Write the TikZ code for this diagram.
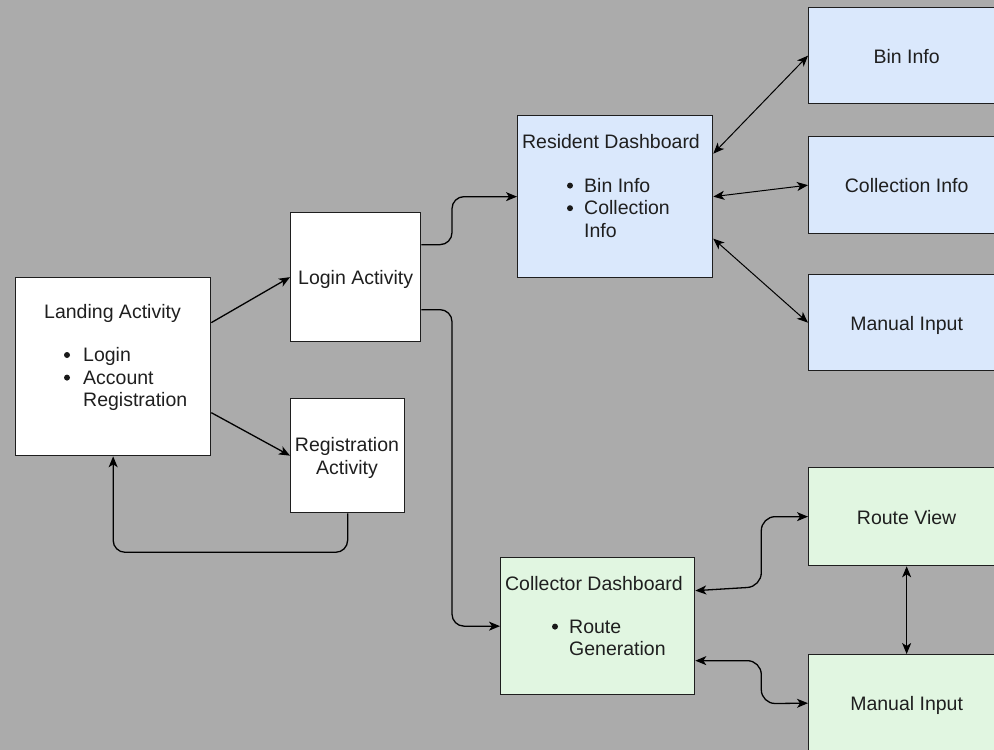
\documentclass[tikz,border=0pt]{standalone}
\usepackage{fontspec}
\setmainfont{Liberation Sans}
\usetikzlibrary{arrows.meta}
\definecolor{bg}{HTML}{ABABAB}
\definecolor{resfill}{HTML}{DAE8FC}
\definecolor{colfill}{HTML}{E1F6E1}
\definecolor{edgecol}{HTML}{1E1E1E}
\begin{document}
\begin{tikzpicture}[x=1pt,y=-1pt,
  >={Stealth[length=11pt, width=9pt, inset=3pt]},
  txt/.style={font=\fontsize{19.5pt}{22.7pt}\selectfont, text=black!88, inner sep=0pt},
  box/.style={draw=edgecol, line width=1.3pt, rectangle, inner sep=0pt, anchor=north west,
    font=\fontsize{19.5pt}{22.7pt}\selectfont, text=black!88, text height=17pt, text depth=2pt},
  plain/.style={box, fill=white},
  resident/.style={box, fill=resfill},
  collector/.style={box, fill=colfill},
  ttl/.style={txt, anchor=base},
  itm/.style={txt, anchor=base west},
  dot/.style={fill=black!90},
  arr/.style={draw=black, line width=1.3pt, ->},
  darr/.style={draw=black, line width=1.3pt, <->},
  thin/.style={line width=1pt}
]
% canvas
\fill[bg] (0,0) rectangle (994,750);
\useasboundingbox (0,0) rectangle (994,750);
\clip (0,0) rectangle (994,750);

% activities
\node[plain, minimum width=195pt, minimum height=178pt] (land) at (15,277) {};
\node[plain, minimum width=130pt, minimum height=129pt] (login) at (290,212) {Login Activity};
\node[plain, minimum width=114pt, minimum height=114pt] (reg) at (290,398) {};

% resident side
\node[resident, minimum width=195pt, minimum height=162pt] (res) at (517,115) {};
\node[resident, minimum width=196pt, minimum height=96pt] (bin) at (808,7) {Bin Info};
\node[resident, minimum width=196pt, minimum height=97pt] (colinfo) at (808,136) {Collection Info};
\node[resident, minimum width=196pt, minimum height=96pt] (manres) at (808,274) {Manual Input};

% collector side
\node[collector, minimum width=194pt, minimum height=137pt] (coll) at (500,557) {};
\node[collector, minimum width=196pt, minimum height=98pt] (route) at (808,467) {Route View};
\node[collector, minimum width=196pt, minimum height=97pt] (mancol) at (808,654) {Manual Input};

% landing activity text
\node[ttl] (landT) at (112.5,318) {Landing Activity};
\fill[dot] (67,355) circle (3pt);
\fill[dot] (67,377.6) circle (3pt);
\node[itm] (landA) at (83,361.7) {Login};
\node[itm] (landB) at (83,384.3) {Account};
\node[itm] (landC) at (83,406.9) {Registration};

% registration activity text
\node[ttl] (regA) at (347,451.7) {Registration};
\node[ttl] (regB) at (347,474.6) {Activity};

% resident dashboard text
\node[ttl] (resT) at (611,148.3) {Resident Dashboard};
\fill[dot] (570,185.6) circle (3pt);
\fill[dot] (570,208.2) circle (3pt);
\node[itm] (resA) at (584,192.3) {Bin Info};
\node[itm] (resB) at (584,214.9) {Collection};
\node[itm] (resC) at (584,237.5) {Info};

% collector dashboard text
\node[ttl] (collT) at (594,590) {Collector Dashboard};
\fill[dot] (555,626.6) circle (3pt);
\node[itm] (collA) at (569,633.3) {Route};
\node[itm] (collB) at (569,655.9) {Generation};

% landing flows
\draw[arr] ([yshift=44pt]land.east) -- (login.west);
\draw[arr] ([yshift=-46pt]land.east) -- (reg.west);
\draw[arr, rounded corners=12pt] (reg.south) -- ++(0,39) -| (land.south);

% login to dashboards
\draw[arr, rounded corners=12pt] ([yshift=32.5pt]login.east) -| ([xshift=-65pt]res.west) -- (res.west);
\draw[arr, rounded corners=12pt] ([yshift=-32.5pt]login.east) -| ([xshift=-48pt]coll.west) -- (coll.west);

% resident dashboard links
\draw[darr, thin] ([yshift=43pt]res.east) -- (bin.west);
\draw[darr, thin] (res.east) -- (colinfo.west);
\draw[darr, thin] ([yshift=-42pt]res.east) -- (manres.west);

% collector dashboard links
\draw[darr, rounded corners=14pt] ([yshift=35.5pt]coll.east) -- ++(66,-4) |- (route.west);
\draw[darr, rounded corners=14pt] ([yshift=-34.5pt]coll.east) -| ++(66,43) -- (mancol.west);
\draw[darr] (route.south) -- (mancol.north);
\end{tikzpicture}
\end{document}
